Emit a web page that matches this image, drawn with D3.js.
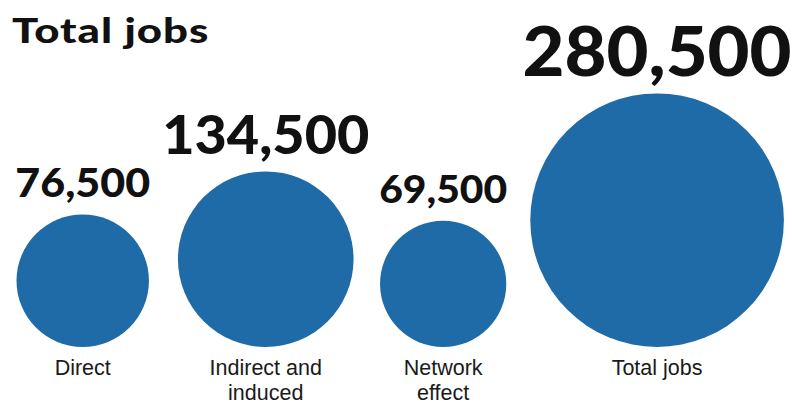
<!DOCTYPE html>
<html>
<head>
<meta charset="utf-8">
<script src="https://cdn.jsdelivr.net/npm/d3@7"></script>
<style>
  html, body { margin: 0; padding: 0; background: #fff; }
  svg { display: block; }
  .title, .value { font-family: "Lato", "Inter", "Roboto", "DejaVu Sans", sans-serif; font-weight: 900; fill: #111; }
  .cat { font-family: "Liberation Sans", "Noto Sans", sans-serif; font-weight: 400; fill: #1a1a1a; }
</style>
</head>
<body>
<svg id="chart" width="792" height="403"></svg>
<script>
// Job categories and their totals
const categories = ["Direct", "Indirect and induced", "Network effect", "Total jobs"];
const categoryLines = [["Direct"], ["Indirect and", "induced"], ["Network", "effect"], ["Total jobs"]];
const jobs = [76500, 134500, 69500, 280500];
const valueLabels = ["76,500", "134,500", "69,500", "280,500"];

const width = 792, height = 403;
const baseline = 347;          // bottom edge shared by all circles
const startX = 16.5;
const gaps = [29, 26.5, 24];   // white space between neighbouring circles
const heavyStretch = 1.06;     // widen the heavy numerals a little

const svg = d3.select("#chart");

// Circle area is proportional to the number of jobs
const r = d3.scaleSqrt().domain([0, d3.max(jobs)]).range([0, 126.8]);

// Value label size grows with the log of the value
const labelSize = d3.scaleLog()
  .domain([d3.min(jobs), d3.max(jobs)])
  .range([38.5, 68.3]);

// Lay circles out left to right
let cursor = startX;
const nodes = jobs.map((v, i) => {
  const rad = r(v);
  const cx = cursor + rad;
  cursor = cx + rad + (gaps[i] || 0);
  return { name: categories[i], lines: categoryLines[i], value: v, label: valueLabels[i], rad, cx, cy: baseline - rad };
});

svg.append("text")
  .attr("class", "title")
  .attr("transform", "translate(12,42.5) scale(1.25,1)")
  .attr("font-size", 35)
  .attr("letter-spacing", 0.8)
  .text("Total jobs");

const g = svg.selectAll("g.bubble")
  .data(nodes)
  .join("g")
  .attr("class", "bubble");

g.append("circle")
  .attr("cx", d => d.cx)
  .attr("cy", d => d.cy)
  .attr("r", d => d.rad)
  .attr("fill", "#1e6ba8");

g.append("text")
  .attr("class", "value")
  .attr("transform", d => `translate(${d.cx},${d.cy - d.rad - 17.5}) scale(${heavyStretch},1)`)
  .attr("text-anchor", "middle")
  .attr("font-size", d => labelSize(d.value))
  .text(d => d.label);

g.each(function(d) {
  const t = d3.select(this).append("text")
    .attr("class", "cat")
    .attr("text-anchor", "middle")
    .attr("font-size", 21.5)
    .attr("x", d.cx)
    .attr("y", baseline + 27.5);
  d.lines.forEach((line, j) => {
    t.append("tspan")
      .attr("x", d.cx)
      .attr("dy", j === 0 ? 0 : 25)
      .text(line);
  });
});
</script>
</body>
</html>
